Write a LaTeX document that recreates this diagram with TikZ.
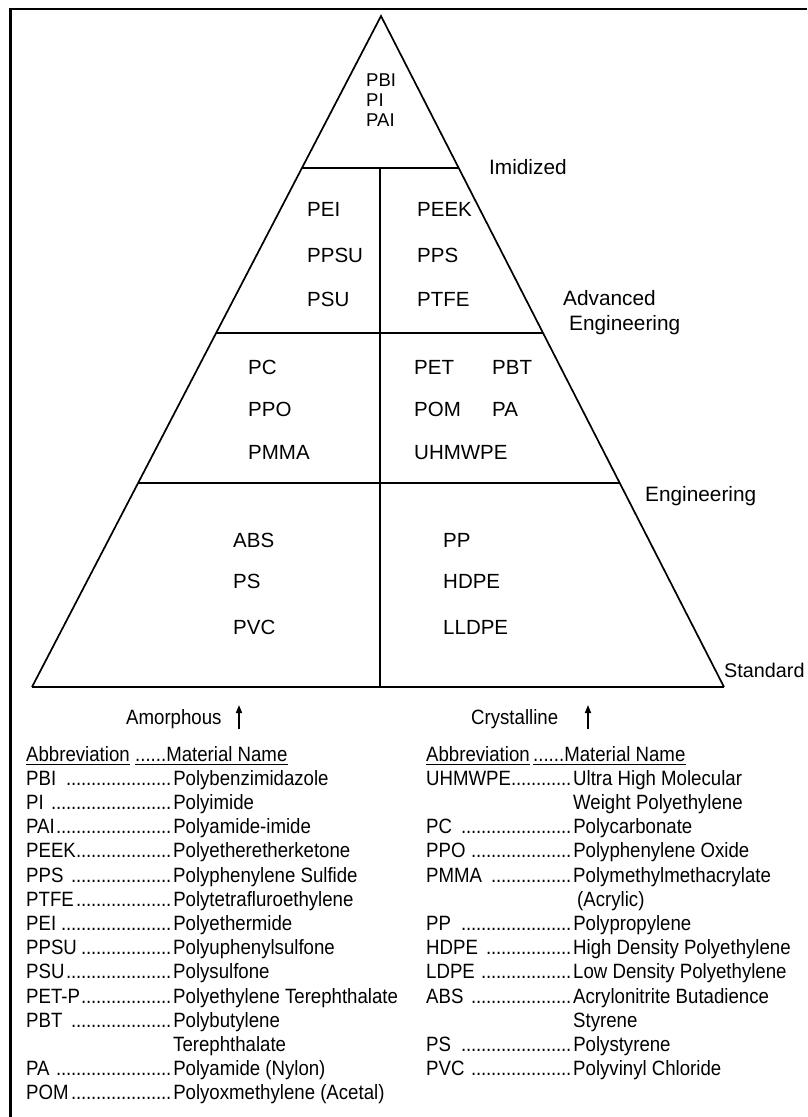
\documentclass[tikz,border=0pt]{standalone}
\usepackage{fontspec}
\setmainfont{Liberation Sans}
\newfontfamily\condf[FakeStretch=0.9]{Liberation Sans}
\usetikzlibrary{calc,arrows.meta}
\newcommand\lead{\leaders\hbox to 5pt{\hss.\hss}\hfill}
\newcommand\abbrcol[1]{\makebox[147pt][l]{#1\lead}}
\begin{document}
\begin{tikzpicture}[x=1pt,y=-1pt,
  edge/.style={line width=1.7pt, black, line join=miter},
  level/.style={line width=2.2pt, black},
  abbr/.style={anchor=base west, inner sep=0, font=\fontsize{20.5}{24}\selectfont},
  topabbr/.style={anchor=base west, inner sep=0, font=\fontsize{18.5}{20}\selectfont},
  lvl/.style={anchor=base west, inner sep=0, font=\fontsize{20.8}{24}\selectfont, align=left},
  leg/.style={anchor=base west, inner sep=0, font=\condf\fontsize{20.7}{24}\selectfont},
  uline/.style={line width=1.6pt, black},
  uparrow/.style={line width=1.6pt, -{Triangle[length=8pt,width=6pt]}}
]
\useasboundingbox (0,0) rectangle (807,1117);
\fill[white] (0,0) rectangle (807,1117);

% frame
\coordinate (f1) at (10.5,1117);
\coordinate (f2) at (10.5,9);
\coordinate (f3) at (807,9);
\draw[line width=2.2pt] (f1) -- (f2) -- (f3);

% pyramid
\coordinate (A) at (381,16);
\coordinate (BL) at (32,687);
\coordinate (BR) at (724,687);
\draw[edge] (BL) -- (A) -- (BR);
\draw[line width=2.8pt] (BL) -- (BR);
\coordinate (L1) at ($(A)!0.2265!(BL)$);
\coordinate (R1) at ($(A)!0.2265!(BR)$);
\coordinate (L2) at ($(A)!0.4724!(BL)$);
\coordinate (R2) at ($(A)!0.4724!(BR)$);
\coordinate (L3) at ($(A)!0.696!(BL)$);
\coordinate (R3) at ($(A)!0.696!(BR)$);
\draw[level, line width=2.8pt] (L1) -- (R1);
\draw[level] (L2) -- (R2);
\draw[level] (L3) -- (R3);
\coordinate (V1) at (380,168);
\coordinate (V2) at (380,687);
\draw[edge] (V1) -- (V2);

% top tier
\node[topabbr] (pbi) at (366,86.6) {PBI};
\node[topabbr] (pi) at (366,106.6) {PI};
\node[topabbr] (pai) at (366,126.6) {PAI};

% advanced engineering tier
\node[abbr] (pei) at (307,216.3) {PEI};
\node[abbr] (ppsu) at (307,262.3) {PPSU};
\node[abbr] (psu) at (307,306.3) {PSU};
\node[abbr] (peek) at (417,216.3) {PEEK};
\node[abbr] (pps) at (417,262.3) {PPS};
\node[abbr] (ptfe) at (417,306.3) {PTFE};

% engineering tier
\node[abbr] (pc) at (248,374.3) {PC};
\node[abbr] (ppo) at (248,416.3) {PPO};
\node[abbr] (pmma) at (248,459.3) {PMMA};
\node[abbr] (pet) at (414,374.3) {PET};
\node[abbr] (pbt) at (492,374.3) {PBT};
\node[abbr] (pom) at (414,416.3) {POM};
\node[abbr] (pa) at (492,416.3) {PA};
\node[abbr] (uhm) at (414,459.3) {UHMWPE};

% standard tier
\node[abbr] (abs) at (233,547.3) {ABS};
\node[abbr] (ps) at (233,588.3) {PS};
\node[abbr] (pvc) at (233,634.3) {PVC};
\node[abbr] (pp) at (443,547.3) {PP};
\node[abbr] (hdpe) at (443,588.3) {HDPE};
\node[abbr] (lldpe) at (443,634.3) {LLDPE};

% level labels
\node[lvl] (imid) at (489,174.4) {Imidized};
\node[lvl] (adv) at (563,305.4) {Advanced};
\node[lvl] (adveng) at (569,330.4) {Engineering};
\node[lvl] (eng) at (645,501.4) {Engineering};
\node[lvl, font=\fontsize{19.8}{24}\selectfont] (std) at (724,677) {Standard};

% amorphous / crystalline
\node[leg] (amor) at (126,724) {Amorphous};
\coordinate (am1) at (239,729);
\coordinate (am2) at (239,705);
\draw[uparrow] (am1) -- (am2);
\node[leg] (cryst) at (471,724) {Crystalline};
\coordinate (cr1) at (588,729);
\coordinate (cr2) at (588,705);
\draw[uparrow] (cr1) -- (cr2);

% left legend
\node[leg] (lh1) at (26,761) {Abbreviation};
\node[leg] (lh2) at (135,761) {......Material Name};
\draw[uline] ($(lh1.base west)+(0,3.5)$) -- ($(lh1.base east)+(0,3.5)$);
\draw[uline] ($(lh2.base west)+(0,3.5)$) -- ($(lh2.base east)+(0,3.5)$);
\node[leg] (l0) at (26,785.2) {\abbrcol{PBI }Polybenzimidazole};
\node[leg] (l1) at (26,809.4) {\abbrcol{PI }Polyimide};
\node[leg] (l2) at (26,833.6) {\abbrcol{PAI}Polyamide-imide};
\node[leg] (l3) at (26,857.8) {\abbrcol{PEEK}Polyetheretherketone};
\node[leg] (l4) at (26,882) {\abbrcol{PPS }Polyphenylene Sulfide};
\node[leg] (l5) at (26,906.2) {\abbrcol{PTFE}Polytetrafluroethylene};
\node[leg] (l6) at (26,930.4) {\abbrcol{PEI}Polyethermide};
\node[leg] (l7) at (26,954.6) {\abbrcol{PPSU}Polyuphenylsulfone};
\node[leg] (l8) at (26,978.8) {\abbrcol{PSU}Polysulfone};
\node[leg] (l9) at (26,1003) {\abbrcol{PET-P}Polyethylene Terephthalate};
\node[leg] (l10) at (26,1027.2) {\abbrcol{PBT }Polybutylene};
\node[leg] (l11) at (173,1051.4) {Terephthalate};
\node[leg] (l12) at (26,1075.6) {\abbrcol{PA }Polyamide (Nylon)};
\node[leg] (l13) at (26,1099.8) {\abbrcol{POM}Polyoxmethylene (Acetal)};

% right legend
\node[leg] (rh1) at (426,761) {Abbreviation};
\node[leg] (rh2) at (533,761) {......Material Name};
\draw[uline] ($(rh1.base west)+(0,3.5)$) -- ($(rh1.base east)+(0,3.5)$);
\draw[uline] ($(rh2.base west)+(0,3.5)$) -- ($(rh2.base east)+(0,3.5)$);
\node[leg] (r0) at (426,785.2) {\abbrcol{UHMWPE}Ultra High Molecular};
\node[leg] (r1) at (573,809.4) {Weight Polyethylene};
\node[leg] (r2) at (426,833.6) {\abbrcol{PC }Polycarbonate};
\node[leg] (r3) at (426,857.8) {\abbrcol{PPO }Polyphenylene Oxide};
\node[leg] (r4) at (426,882) {\abbrcol{PMMA }Polymethylmethacrylate};
\node[leg] (r5) at (577,906.2) {(Acrylic)};
\node[leg] (r6) at (426,930.4) {\abbrcol{PP }Polypropylene};
\node[leg] (r7) at (426,954.6) {\abbrcol{HDPE }High Density Polyethylene};
\node[leg] (r8) at (426,978.8) {\abbrcol{LDPE }Low Density Polyethylene};
\node[leg] (r9) at (426,1003) {\abbrcol{ABS }Acrylonitrite Butadience};
\node[leg] (r10) at (573,1027.2) {Styrene};
\node[leg] (r11) at (426,1051.4) {\abbrcol{PS }Polystyrene};
\node[leg] (r12) at (426,1075.6) {\abbrcol{PVC }Polyvinyl Chloride};
\end{tikzpicture}
\end{document}
